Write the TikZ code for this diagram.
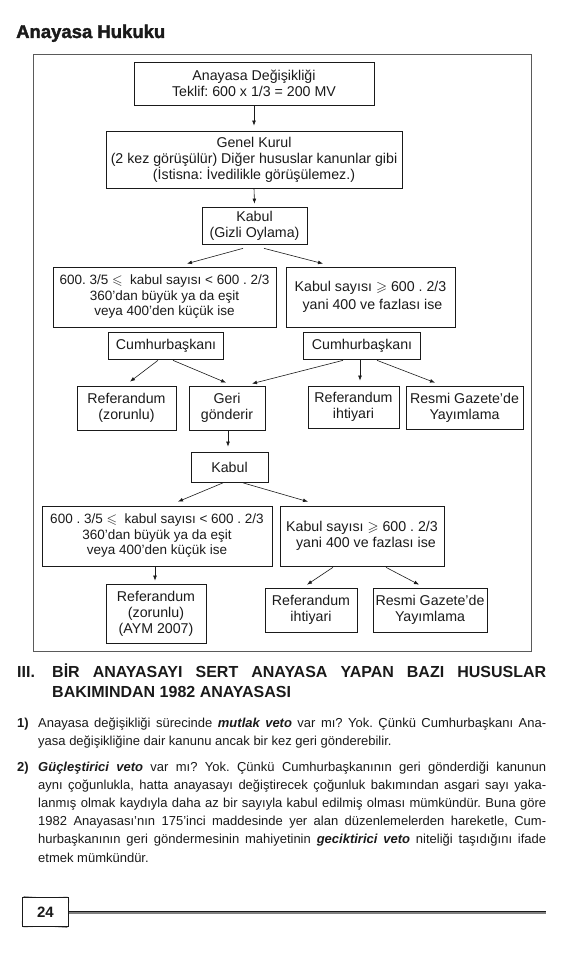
\documentclass[tikz,border=0pt]{standalone}
\usepackage{fontspec}
\setmainfont{Liberation Sans}
\newfontfamily\headfont{Liberation Sans}[BoldFeatures={FakeBold=2}]
\usepackage{amssymb}
\usetikzlibrary{calc, arrows.meta}

\definecolor{ink}{HTML}{1A1A1A}
\definecolor{framec}{HTML}{5A5A5A}
\newcommand\boxfont{\fontsize{14.2}{16}\selectfont\frenchspacing}
\newcommand\condfont{\fontsize{13.5}{15.5}\selectfont\frenchspacing}
\newcommand\bodyfont{\fontsize{13}{18.2}\selectfont\frenchspacing\hyphenpenalty=10000\tolerance=9999}

\begin{document}
\begin{tikzpicture}[x=1pt, y=-1pt,
  box/.style={draw=ink, line width=0.7pt, align=center, inner sep=1pt, font=\boxfont, text=ink},
  arr/.style={-{Latex[length=5pt,width=3.8pt]}, draw=ink, line width=0.6pt}]
\useasboundingbox (0,0) rectangle (562,960);

\node[anchor=base west, inner sep=0, text=ink, font=\headfont\bfseries\fontsize{18.5}{20}\selectfont] (title) at (16,38) {Anayasa Hukuku};
\draw[framec, line width=0.8pt] (33,54) rectangle (531,651); % outer frame

% first part
\node[box, minimum width=240, minimum height=43] (teklif) at (254,83.5) {Anayasa Değişikliği\\Teklif: 600 x 1/3 = 200 MV};
\node[box, minimum width=296, minimum height=57] (kurul) at (254,159.5) {Genel Kurul\\(2 kez görüşülür) Diğer hususlar kanunlar gibi\\(İstisna: İvedilikle görüşülemez.)};
\node[box, minimum width=105, minimum height=37] (kabul) at (254.5,225.5) {Kabul\\(Gizli Oylama)};
\node[box, font=\condfont, minimum width=223, minimum height=60] (azsayi) at (164.5,297) {600. 3/5 $\leqslant$\ \ kabul sayısı < 600 . 2/3\\360'dan büyük ya da eşit\\veya 400'den küçük ise};
\node[box, minimum width=169, minimum height=60] (coksayi) at (370.5,297) {Kabul sayısı $\geqslant$ 600 . 2/3\\[2pt]\ yani 400 ve fazlası ise};
\node[box, minimum width=115, minimum height=27] (cbsol) at (166,345.5) {Cumhurbaşkanı};
\node[box, minimum width=117, minimum height=27] (cbsag) at (362,345.5) {Cumhurbaşkanı};
\node[box, minimum width=99, minimum height=44] (refzor) at (126.5,408) {Referandum\\(zorunlu)};
\node[box, minimum width=76, minimum height=44] (geri) at (227,408) {Geri\\gönderir};
\node[box, minimum width=91, minimum height=42] (refiht) at (353.5,407) {Referandum\\ihtiyari};
\node[box, minimum width=117, minimum height=43] (resmi) at (464.5,407.5) {Resmi Gazete’de\\Yayımlama};

% second vote
\node[box, minimum width=77, minimum height=30] (kabulb) at (229.5,467) {Kabul};
\node[box, font=\condfont, minimum width=230, minimum height=60] (azsayib) at (157,536) {600 . 3/5 $\leqslant$\ \ kabul sayısı < 600 . 2/3\\360'dan büyük ya da eşit\\veya 400'den küçük ise};
\node[box, minimum width=164, minimum height=60] (coksayib) at (362,536) {Kabul sayısı $\geqslant$ 600 . 2/3\\\ \ yani 400 ve fazlası ise};
\node[box, minimum width=100, minimum height=59] (refaym) at (156,613.5) {Referandum\\(zorunlu)\\(AYM 2007)};
\node[box, minimum width=92, minimum height=44] (refihtb) at (311,610) {Referandum\\ihtiyari};
\node[box, minimum width=114, minimum height=44] (resmib) at (430,610) {Resmi Gazete’de\\Yayımlama};

% arrows
\draw[arr] (teklif.south) -- ($(kurul.north)+(0,-5)$);
\draw[arr] (kurul.south) -- ($(kabul.north)+(0,-3)$);
\draw[arr] ($(kabul.south)+(-11.5,4)$) -- ($(azsayi.north)+(22.5,-3)$);
\draw[arr] ($(kabul.south)+(9.5,4)$) -- ($(coksayi.north)+(-47.5,-3)$);
\draw[arr] ($(cbsol.south)+(-8,1)$) -- ($(refzor.north)+(3.5,-4)$);
\draw[arr] ($(cbsol.south)+(7,1)$) -- ($(geri.north)+(-1,-3)$);
\draw[arr] ($(cbsag.south)+(-19,1)$) -- ($(geri.north)+(25,-2)$);
\draw[arr] ($(cbsag.south)+(-2,1)$) -- ($(refiht.north)+(6.5,-5)$);
\draw[arr] ($(cbsag.south)+(15,1)$) -- ($(resmi.north)+(-29.5,-3)$);
\draw[arr] ($(geri.south)+(1,0)$) -- ($(kabulb.north)+(-1.5,-5)$);
\draw[arr] ($(kabulb.south)+(-6.5,0.5)$) -- ($(azsayib.north)+(21,-4)$);
\draw[arr] ($(kabulb.south)+(13.5,0.5)$) -- ($(coksayib.north)+(-54,-4)$);
\draw[arr] ($(azsayib.south)+(-2,0.5)$) -- ($(refaym.north)+(-1,-3)$);
\draw[arr] ($(coksayib.south)+(-29,1)$) -- ($(refihtb.north)+(-4,-3)$);
\draw[arr] ($(coksayib.south)+(24,1)$) -- ($(resmib.north)+(-11,-3)$);

% text below the frame
\node[anchor=base west, inner sep=0, text=ink, font=\fontsize{16}{20}\selectfont\bfseries] (roma) at (17,677) {III.};
\node[anchor=base west, inner sep=0, text=ink, text width=494pt, align=justify, font=\fontsize{16}{20}\selectfont\bfseries] (baslik) at (52,677)
  {BİR ANAYASAYI SERT ANAYASA YAPAN BAZI HUSUSLAR\linebreak BAKIMINDAN 1982 ANAYASASI};

\node[anchor=base west, inner sep=0, text=ink, font=\bodyfont\bfseries] (no1) at (17,727) {1)};
\node[anchor=base west, inner sep=0, text=ink, text width=508pt, align=justify, font=\bodyfont] (par1) at (38,727)
  {Anayasa değişikliği sürecinde \textbf{\textit{mutlak veto}} var mı? Yok. Çünkü Cumhurbaşkanı Ana-\linebreak yasa değişikliğine dair kanunu ancak bir kez geri gönderebilir.};

\node[anchor=base west, inner sep=0, text=ink, font=\bodyfont\bfseries] (no2) at (17,771) {2)};
\node[anchor=base west, inner sep=0, text=ink, text width=508pt, align=justify, font=\bodyfont] (par2) at (38,771)
  {\textbf{\textit{Güçleştirici veto}} var mı? Yok. Çünkü Cumhurbaşkanının geri gönderdiği kanunun\linebreak aynı çoğunlukla, hatta anayasayı değiştirecek çoğunluk bakımından asgari sayı yaka-\linebreak lanmış olmak kaydıyla daha az bir sayıyla kabul edilmiş olması mümkündür. Buna göre\linebreak 1982 Anayasası’nın 175’inci maddesinde yer alan düzenlemelerden hareketle, Cum-\linebreak hurbaşkanının geri göndermesinin mahiyetinin \textbf{\textit{geciktirici veto}} niteliği taşıdığını ifade\linebreak etmek mümkündür.};

% page number
\draw[gray, line width=0.6pt, rotate around={-4:(45.5,912)}] (23,898) rectangle (68,926);
\draw[gray!70, line width=0.6pt, rotate around={3:(45.5,912)}] (23,898) rectangle (68,926);
\node[draw=ink, fill=white, line width=0.8pt, minimum width=46, minimum height=29, text=ink, font=\fontsize{15}{15}\selectfont\bfseries] (sayfa) at (45.5,912) {24};
\draw[gray, line width=2.2pt] (sayfa.east) ++(0,1) -- (546,913);
\draw[ink, line width=1pt] (sayfa.east) ++(0,-0.5) -- (546,911.5);
\end{tikzpicture}
\end{document}
